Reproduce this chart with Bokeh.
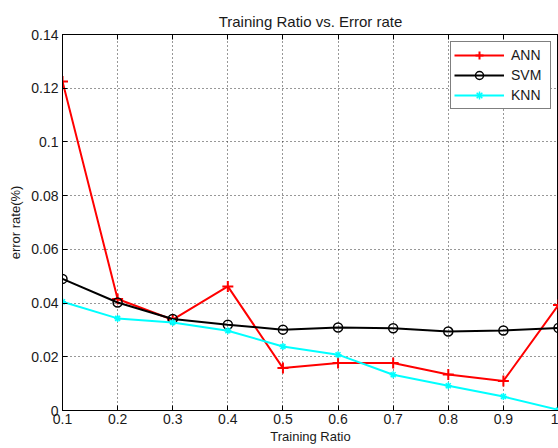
from bokeh.plotting import figure
from bokeh.models import LinearAxis, FixedTicker, CustomJSTickFormatter, Range1d
from bokeh.embed import file_html
from bokeh.resources import INLINE

ratios = [0.1, 0.2, 0.3, 0.4, 0.5, 0.6, 0.7, 0.8, 0.9, 1.0]
ann = [0.1225, 0.0415, 0.0338, 0.0462, 0.0158, 0.0177, 0.0177, 0.0134, 0.0110, 0.0393]
svm = [0.0490, 0.0402, 0.0341, 0.0319, 0.0301, 0.0309, 0.0306, 0.0294, 0.0298, 0.0307]
knn = [0.0405, 0.0343, 0.0328, 0.0297, 0.0238, 0.0208, 0.0133, 0.0092, 0.0052, 0.0002]
x_ticks = [0.1, 0.2, 0.3, 0.4, 0.5, 0.6, 0.7, 0.8, 0.9, 1.0]
y_ticks = [0, 0.02, 0.04, 0.06, 0.08, 0.1, 0.12, 0.14]

FONT = "Liberation Sans"
TXT = "#1a1a1a"

p = figure(width=558, height=448, output_backend="svg", toolbar_location=None,
           x_range=Range1d(0.1, 1.0), y_range=Range1d(0, 0.14),
           title="Training Ratio vs. Error rate",
           min_border_left=62, min_border_right=0, min_border_top=34, min_border_bottom=38)
p.background_fill_color = "white"
p.border_fill_color = "white"
p.outline_line_color = "black"
p.outline_line_width = 1

p.title.text_font = FONT
p.title.text_font_size = "15px"
p.title.text_font_style = "normal"
p.title.text_color = TXT
p.title.align = "center"

fmt = CustomJSTickFormatter(code="return Number(tick.toFixed(2)).toString();")

for ax, ticks in ((p.xaxis[0], x_ticks), (p.yaxis[0], y_ticks)):
    ax.ticker = FixedTicker(ticks=ticks)
    ax.formatter = fmt
    ax.major_tick_in = 5
    ax.major_tick_out = 0
    ax.minor_tick_line_color = None
    ax.axis_line_color = "black"
    ax.major_tick_line_color = "black"
    ax.major_label_text_font = FONT
    ax.major_label_text_font_size = "14px"
    ax.major_label_text_color = TXT
    ax.axis_label_text_font = FONT
    ax.axis_label_text_font_style = "normal"
    ax.axis_label_text_color = TXT
    ax.axis_label_text_font_size = "13px"

p.xaxis.axis_label = "Training Ratio"
p.yaxis.axis_label = "error rate(%)"
p.xaxis.major_label_standoff = 3
p.xaxis.axis_label_standoff = 2
p.yaxis.major_label_standoff = 4
p.yaxis.axis_label_standoff = 5

top = LinearAxis(ticker=FixedTicker(ticks=x_ticks), major_label_text_font_size="0px",
                 major_tick_in=5, major_tick_out=0, minor_tick_line_color=None,
                 axis_line_color="black", major_tick_line_color="black")
top.major_label_text_color = None
p.add_layout(top, "above")

for g, ticks in ((p.xgrid[0], x_ticks), (p.ygrid[0], y_ticks)):
    g.ticker = FixedTicker(ticks=ticks)
    g.grid_line_color = "#303030"
    g.grid_line_dash = "1 3"
    g.grid_line_width = 1

p.line(ratios, ann, color="#ff0000", line_width=2, legend_label="ANN")
p.scatter(ratios, ann, marker="cross", size=11, line_color="#ff0000", line_width=2, legend_label="ANN")
p.line(ratios, svm, color="black", line_width=2, legend_label="SVM")
p.scatter(ratios, svm, marker="circle", size=9, line_color="black", fill_color=None, line_width=1.5, legend_label="SVM")
p.line(ratios, knn, color="#00ffff", line_width=2, legend_label="KNN")
p.scatter(ratios, knn, marker="asterisk", size=7, line_color="#00ffff", line_width=1.5, legend_label="KNN")

lg = p.legend[0]
lg.location = "top_right"
lg.margin = 7
lg.padding = 3
lg.spacing = 0
lg.glyph_width = 50
lg.glyph_height = 20
lg.label_height = 20
lg.label_width = 36
lg.label_text_font = FONT
lg.label_text_font_size = "14px"
lg.label_text_color = TXT
lg.label_standoff = 7
lg.border_line_color = "black"
lg.border_line_width = 1
lg.background_fill_alpha = 1

open("out.html", "w").write(file_html(p, INLINE))
